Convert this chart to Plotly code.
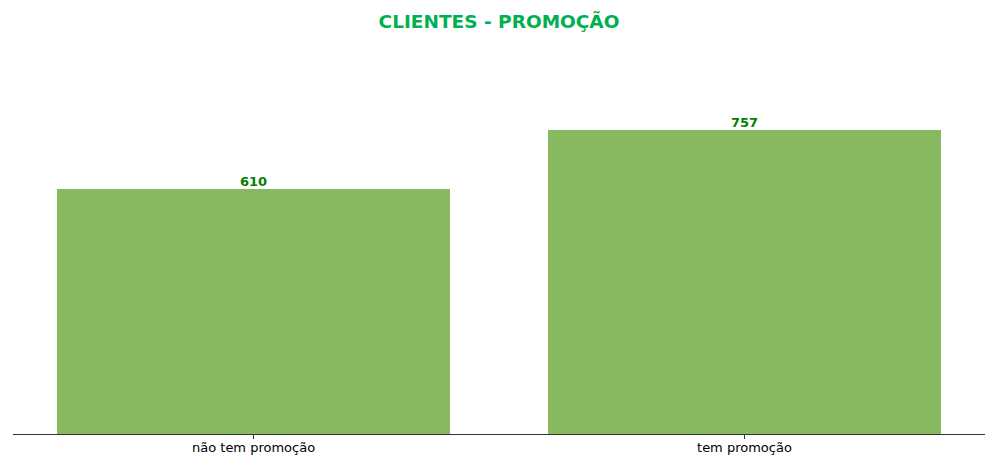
import plotly.graph_objects as go

categories = ["não tem promoção", "tem promoção"]
values = [610, 757]
title_text = "CLIENTES - PROMOÇÃO"

# page body has an 8px margin; figure sized/offset to compensate
W, H = 977, 449

fig = go.Figure(go.Bar(
    x=[0, 1],
    y=values,
    width=0.8,
    marker=dict(color="#87BA5E", line=dict(width=0)),
    hoverinfo="skip",
))

for i, v in enumerate(values):
    fig.add_annotation(
        x=i, y=v, xref="x", yref="y", text="<b>%d</b>" % v, showarrow=False,
        yanchor="bottom", xanchor="center", yshift=-2,
        font=dict(family="DejaVu Sans", size=13, color="#008000"),
    )

fig.update_layout(
    width=W, height=H,
    margin=dict(l=5, r=0, t=37, b=23),
    paper_bgcolor="white", plot_bgcolor="white",
    font=dict(family="DejaVu Sans", size=13, color="#000000"),
    title=dict(text="<b>" + title_text + "</b>", x=0.5, xref="paper", xanchor="center",
               y=1 - 14 / H, yref="container", yanchor="middle",
               font=dict(family="DejaVu Sans", size=18.5, color="#00B050")),
    showlegend=False,
    bargap=0,
)
fig.update_xaxes(
    range=[-0.49, 1.49],
    tickmode="array", tickvals=[0, 1], ticktext=categories,
    showline=True, linecolor="#333333", linewidth=1,
    ticks="outside", ticklen=4, tickcolor="#333333",
    ticklabelstandoff=-3,
    showgrid=False, zeroline=False,
    tickfont=dict(size=13, color="#000000"),
)
fig.update_yaxes(
    range=[0, 968.6], visible=False, showgrid=False, zeroline=False,
)

fig.write_html("out.html")
